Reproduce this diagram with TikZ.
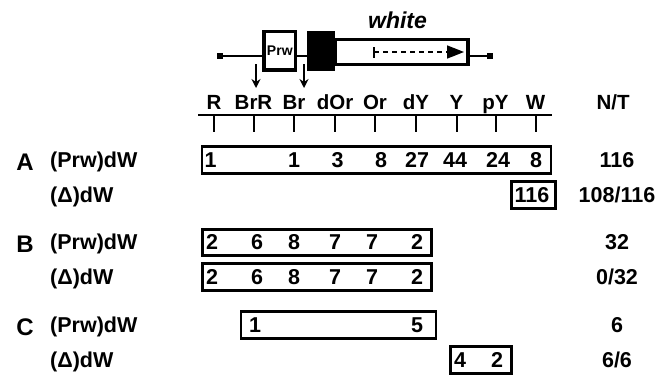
\documentclass[tikz,border=0pt]{standalone}
\usepackage{fontspec}
\setmainfont{Liberation Sans}
\usetikzlibrary{arrows.meta}
\begin{document}
\begin{tikzpicture}[x=1pt,y=-1pt,
  hdr/.style={font=\fontsize{20.5}{20.5}\selectfont\bfseries, inner sep=0, anchor=base},
  rowtxt/.style={font=\fontsize{21.5}{21.5}\selectfont\bfseries, inner sep=0, anchor=base},
  rowlbl/.style={rowtxt, anchor=base west},
  grp/.style={font=\fontsize{24}{24}\selectfont\bfseries, inner sep=0, anchor=base},
  databox/.style={draw, line width=2.8pt, inner sep=0, minimum height=26.5pt},
  genebox/.style={draw, line width=3.2pt, fill=white, inner sep=0},
  endcap/.style={fill, inner sep=0, minimum size=6pt},
]
\useasboundingbox (0,0) rectangle (668,375);

% ---- gene model: backbone, Prw box, exon and white transcript
\node[endcap] (capL) at (220,56) {};
\node[endcap] (capR) at (490,56) {};
\draw[line width=2.8pt] (capL) -- (capR);
\node[genebox, minimum width=31.7pt, minimum height=38.3pt,
      font=\fontsize{14}{14}\selectfont\bfseries] (prw) at (279.8,50.8) {Prw};
\node[genebox, minimum width=133pt, minimum height=24.5pt] (wbox) at (401.5,52) {};
\node[fill=black, inner sep=0, minimum width=28pt, minimum height=40pt] (exon) at (321,51) {};
\node[font=\fontsize{23}{23}\selectfont\bfseries\itshape, inner sep=0, anchor=base] (wlbl) at (397.5,28.3) {white};
\coordinate (trS) at (373,52);
\coordinate (trE) at (464,52);
\draw[line width=1.7pt, dash pattern=on 5pt off 4pt,
      {Bar[width=11pt]}-{Triangle[length=17pt,width=13pt]}] (trS) -- (trE);

% ---- breakpoint arrows
\coordinate (cutA) at (256,64);
\coordinate (cutAe) at (256,88);
\coordinate (cutB) at (304,64);
\coordinate (cutBe) at (304,88);
\draw[line width=2pt, -{Stealth[length=9pt,width=9pt]}] (cutA) -- (cutAe);
\draw[line width=2pt, -{Stealth[length=9pt,width=9pt]}] (cutB) -- (cutBe);

% ---- colour scale axis
\coordinate (axL) at (198,115);
\coordinate (axR) at (552,115);
\draw[line width=2.8pt] (axL) -- (axR);
\foreach \x/\t/\n in {214/R/1, 253.5/BrR/2, 294/Br/3, 335/dOr/4, 375/Or/5,
                      416/dY/6, 456.5/Y/7, 495.5/pY/8, 535.5/W/9} {
  \node[hdr] (lab\n) at (\x,109) {\t};
  \coordinate (tk\n) at (\x,115);
  \draw[line width=2pt] (tk\n) -- ++(0,17);
}
\node[hdr] (nt) at (613,109) {N/T};

% ---- A
\node[grp] (gA) at (25,170) {A};
\node[rowlbl] (rA1) at (50,167.3) {(Prw)dW};
\node[rowlbl] (rA2) at (50,202.3) {(Δ)dW};
\node[databox, minimum width=349pt] (bA1) at (376.5,160) {};
\foreach \x/\t/\n in {210.5/1/1, 294/1/2, 337.5/3/3, 381/8/4, 417/27/5,
                      455/44/6, 498/24/7, 536/8/8}
  \node[rowtxt] (nA\n) at (\x,167.3) {\t};
\node[databox, minimum width=44pt] (bA2) at (533.5,195) {};
\node[rowtxt] (nA9) at (532,202.3) {116};
\node[rowtxt] (tA1) at (617,167.3) {116};
\node[rowtxt] (tA2) at (617,202.3) {108/116};

% ---- B
\node[grp] (gB) at (25,252.5) {B};
\node[rowlbl] (rB1) at (50,249.8) {(Prw)dW};
\node[rowlbl] (rB2) at (50,284.3) {(Δ)dW};
\node[databox, minimum width=229pt] (bB1) at (317,242.5) {};
\node[databox, minimum width=229pt] (bB2) at (317,277) {};
\foreach \x/\t/\n in {212/2/1, 257/6/2, 294/8/3, 335/7/4, 372/7/5, 417/2/6} {
  \node[rowtxt] (nB\n) at (\x,249.8) {\t};
  \node[rowtxt] (mB\n) at (\x,284.3) {\t};
}
\node[rowtxt] (tB1) at (617,249.8) {32};
\node[rowtxt] (tB2) at (617,284.3) {0/32};

% ---- C
\node[grp] (gC) at (25,335) {C};
\node[rowlbl] (rC1) at (50,332.3) {(Prw)dW};
\node[rowlbl] (rC2) at (50,367.3) {(Δ)dW};
\node[databox, minimum width=195pt] (bC1) at (338.5,325) {};
\node[rowtxt] (nC1) at (255,332.3) {1};
\node[rowtxt] (nC2) at (417,332.3) {5};
\node[databox, minimum width=61.5pt] (bC2) at (481,360) {};
\node[rowtxt] (nC3) at (460,367.3) {4};
\node[rowtxt] (nC4) at (497,367.3) {2};
\node[rowtxt] (tC1) at (617,332.3) {6};
\node[rowtxt] (tC2) at (617,367.3) {6/6};
\end{tikzpicture}
\end{document}
